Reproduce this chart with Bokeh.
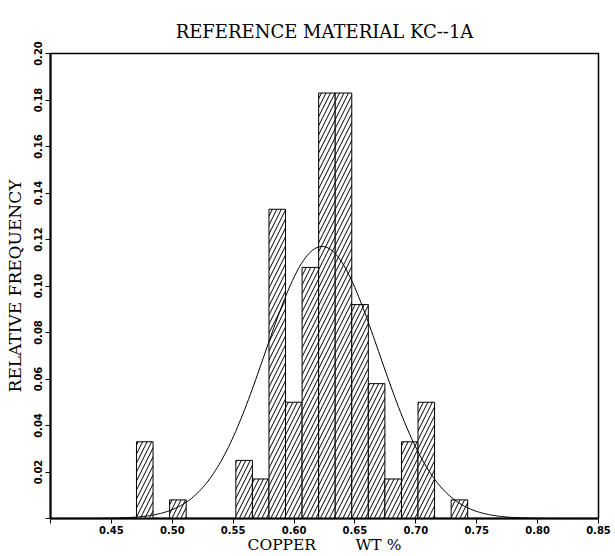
import math
from bokeh.plotting import figure
from bokeh.models import FixedTicker, Range1d, PrintfTickFormatter
from bokeh.embed import file_html
from bokeh.resources import INLINE

# ---- data ----
BIN_START = 0.4706
BIN_WIDTH = 0.0136
REL_FREQ = [0.033, 0.0, 0.008, 0.0, 0.0, 0.0, 0.025, 0.017, 0.133, 0.050,
            0.108, 0.183, 0.183, 0.092, 0.058, 0.017, 0.033, 0.050, 0.0, 0.008]
FIT_MEAN = 0.623
FIT_SD = 0.047
FIT_PEAK = 0.117
X_TICKS = [0.40, 0.45, 0.50, 0.55, 0.60, 0.65, 0.70, 0.75, 0.80, 0.85]
Y_TICKS = [0.0, 0.02, 0.04, 0.06, 0.08, 0.10, 0.12, 0.14, 0.16, 0.18, 0.20]

TITLE = "REFERENCE MATERIAL KC--1A"
X_LABEL = "COPPER" + "\u00a0" * 8 + "WT %"
Y_LABEL = "RELATIVE FREQUENCY"

SERIF = "DejaVu Serif"
TICKFONT = "DejaVu Sans"

p = figure(width=615, height=556, output_backend="svg", toolbar_location=None,
           x_range=Range1d(0.40, 0.85), y_range=Range1d(0.0, 0.20),
           min_border_left=50, min_border_right=17, min_border_top=53,
           min_border_bottom=38)

p.title.text = TITLE
p.title.align = "center"
p.title.text_font = SERIF
p.title.text_font_size = "18px"
p.title.text_font_style = "normal"
p.title.text_color = "black"
p.title.standoff = 23

p.grid.visible = False
p.outline_line_color = "black"
p.outline_line_width = 1.5
p.background_fill_color = "white"
p.border_fill_color = "white"

# bars
lefts = [BIN_START + i * BIN_WIDTH for i, f in enumerate(REL_FREQ) if f > 0]
tops = [f for f in REL_FREQ if f > 0]
rights = [l + BIN_WIDTH for l in lefts]
p.quad(left=lefts, right=rights, bottom=0, top=tops,
       fill_color="white", line_color="black", line_width=1,
       hatch_pattern="/", hatch_color="black", hatch_scale=9, hatch_weight=1)

# fitted normal curve
n = 300
xs = [0.40 + (0.85 - 0.40) * k / (n - 1) for k in range(n)]
ys = [FIT_PEAK * math.exp(-((x - FIT_MEAN) ** 2) / (2 * FIT_SD ** 2)) for x in xs]
p.line(xs, ys, line_color="black", line_width=1)

# axes
xa = p.xaxis[0]
xa.ticker = FixedTicker(ticks=X_TICKS)
xa.formatter = PrintfTickFormatter(format="%.2f")
xa.major_label_overrides = {0.4: ""}
xa.axis_label = X_LABEL
ya = p.yaxis[0]
ya.ticker = FixedTicker(ticks=Y_TICKS)
ya.formatter = PrintfTickFormatter(format="%.2f")
ya.major_label_overrides = {0.0: ""}
ya.axis_label = Y_LABEL
ya.major_label_orientation = "vertical"

for ax in (xa, ya):
    ax.axis_line_width = 2
    ax.axis_line_color = "black"
    ax.major_tick_line_color = "black"
    ax.major_tick_line_width = 1
    ax.major_tick_out = 5
    ax.major_tick_in = 0
    ax.minor_tick_line_color = None
    ax.major_label_text_font = TICKFONT
    ax.major_label_text_font_style = "bold"
    ax.major_label_text_font_size = "10px"
    ax.major_label_text_color = "black"
    ax.axis_label_text_font = SERIF
    ax.axis_label_text_font_style = "normal"
    ax.axis_label_text_color = "black"

xa.axis_label_text_font_size = "15.5px"
ya.axis_label_text_font_size = "17px"
xa.major_label_standoff = 2
xa.axis_label_standoff = -1
ya.major_label_standoff = 4
ya.axis_label_standoff = 6

open("out.html", "w").write(file_html(p, INLINE))
